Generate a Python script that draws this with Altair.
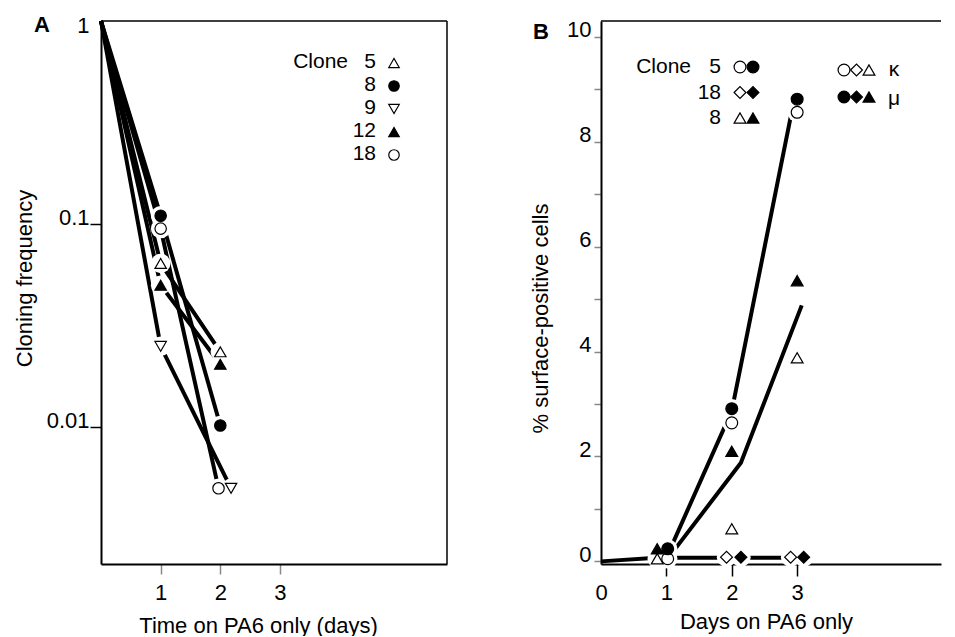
import altair as alt
import pandas as pd

FONT = "Liberation Sans"

# ---------------- Panel A: cloning frequency (log) ----------------
clones_a = ["5", "8", "9", "12", "18"]
shapes_a = ["triangle-up", "circle", "triangle-down", "triangle-up", "circle"]
fills_a = ["white", "black", "white", "black", "white"]

days_a_5 = [0, 1, 2]
freq_a_5 = [1, 0.064, 0.0235]
days_a_8 = [0, 1, 2]
freq_a_8 = [1, 0.11, 0.0102]
days_a_9 = [0, 1, 2.18]
freq_a_9 = [1, 0.025, 0.005]
days_a_12 = [0, 1, 2]
freq_a_12 = [1, 0.05, 0.0204]
days_a_18 = [0, 1, 1.97]
freq_a_18 = [1, 0.095, 0.005]

# ---------------- Panel B: % surface-positive cells ----------------
series_b = ["5κ", "5μ", "18κ", "18μ", "8κ", "8μ"]
shapes_b = ["circle", "circle", "diamond", "diamond", "triangle-up", "triangle-up"]
fills_b = ["white", "black", "white", "black", "white", "black"]
sizes_b = [140, 140, 200, 200, 140, 140]

x_b_5k = [1.02, 2.0, 3.0]
y_b_5k = [0.05, 2.64, 8.56]
x_b_5m = [1.02, 2.0, 3.0]
y_b_5m = [0.24, 2.91, 8.81]
x_b_18k = [1.92, 2.9]
y_b_18k = [0.08, 0.08]
x_b_18m = [2.14, 3.1]
y_b_18m = [0.08, 0.08]
x_b_8k = [0.86, 2.0, 3.0]
y_b_8k = [0.05, 0.62, 3.88]
x_b_8m = [0.86, 2.0, 3.0]
y_b_8m = [0.24, 2.1, 5.35]

# hand-drawn trend lines
trend_x_0 = [0, 0.85]
trend_y_0 = [0, 0.07]
trend_x_1 = [1.05, 2.0, 2.97]
trend_y_1 = [0.21, 2.87, 8.9]
trend_x_2 = [1.05, 2.14, 3.07]
trend_y_2 = [0.1, 1.88, 4.88]
trend_x_3 = [1.1, 2.9]
trend_y_3 = [0.07, 0.07]

legend_b_clones = ["5", "18", "8"]

# ---------------- tables ----------------
rows = []
for c, xs, ys in [("5", days_a_5, freq_a_5), ("8", days_a_8, freq_a_8),
                  ("9", days_a_9, freq_a_9), ("12", days_a_12, freq_a_12),
                  ("18", days_a_18, freq_a_18)]:
    for x, y in zip(xs, ys):
        rows.append({"clone": c, "day": x, "freq": y})
df_a = pd.DataFrame(rows)
df_a_pts = df_a[df_a["day"] > 0]

rows = []
for s, xs, ys in [("5κ", x_b_5k, y_b_5k), ("5μ", x_b_5m, y_b_5m),
                  ("18κ", x_b_18k, y_b_18k), ("18μ", x_b_18m, y_b_18m),
                  ("8κ", x_b_8k, y_b_8k), ("8μ", x_b_8m, y_b_8m)]:
    for x, y in zip(xs, ys):
        rows.append({"series": s, "day": x, "pct": y})
df_b = pd.DataFrame(rows)

rows = []
for k, xs, ys in [(0, trend_x_0, trend_y_0), (1, trend_x_1, trend_y_1),
                  (2, trend_x_2, trend_y_2), (3, trend_x_3, trend_y_3)]:
    for i, (x, y) in enumerate(zip(xs, ys)):
        rows.append({"trend": k, "i": i, "day": x, "pct": y})
df_trend = pd.DataFrame(rows)

W_A, W_B, H = 346, 340, 543
one = pd.DataFrame({"k": [0]})

# ---------------- Panel A ----------------
xa = alt.X("day:Q", scale=alt.Scale(domain=[0, 5.8], nice=False, zero=False),
           axis=alt.Axis(values=[1, 2, 3], title="Time on PA6 only (days)",
                         tickSize=10, labelPadding=8, labelFlush=False,
                         titleX=157, titleY=61, titleBaseline="middle"))
ya = alt.Y("freq:Q", scale=alt.Scale(type="log", domain=[0.00212, 1], nice=False),
           axis=alt.Axis(values=[1, 0.1, 0.01], format=".2~f", title="Cloning frequency",
                         tickSize=11, labelPadding=1,
                         labelBaseline={"condition": {"test": "datum.value >= 1", "value": "middle"},
                                        "value": "alphabetic"},
                         labelOffset={"condition": {"test": "datum.value >= 1", "value": 4},
                                      "value": 0},
                         tickColor={"condition": {"test": "datum.value >= 1", "value": "transparent"},
                                    "value": "black"},
                         titleX=-77, titleY=257, titleBaseline="middle", titleAlign="center"))
shape_a = alt.Shape("clone:N", scale=alt.Scale(domain=clones_a, range=shapes_a), legend=None)
fill_a = alt.Fill("clone:N", scale=alt.Scale(domain=clones_a, range=fills_a), legend=None)

lines_a = alt.Chart(df_a).mark_line(color="black", strokeWidth=4).encode(
    x=xa, y=ya, detail="clone:N", order="day:Q")
halo_a = alt.Chart(df_a_pts).mark_point(filled=True, shape="circle", size=380,
                                        color="white", opacity=1).encode(x=xa, y=ya)
pts_a = alt.Chart(df_a_pts).mark_point(filled=True, size=130, stroke="black",
                                       strokeWidth=1.2, opacity=1).encode(
    x=xa, y=ya, shape=shape_a, fill=fill_a)

leg_a = pd.DataFrame({"clone": clones_a, "row": list(range(len(clones_a)))})
leg_a_text = alt.Chart(leg_a).mark_text(align="right", baseline="middle", fontSize=21,
                                        font=FONT, color="black").transform_calculate(
    ly="41 + 23*datum.row").encode(
    x=alt.value(275), y=alt.Y("ly:Q", scale=None, axis=None), text="clone:N")
leg_a_pts = alt.Chart(leg_a).mark_point(filled=True, size=110, stroke="black",
                                        strokeWidth=1.2, opacity=1).transform_calculate(
    ly="42 + 23*datum.row").encode(
    x=alt.value(293), y=alt.Y("ly:Q", scale=None, axis=None), shape=shape_a, fill=fill_a)
leg_a_title = alt.Chart(one).mark_text(text="Clone", align="right", baseline="middle",
                                       fontSize=21, font=FONT, color="black").encode(
    x=alt.value(247), y=alt.value(41))
frame_a_top = alt.Chart(one).mark_rule(color="black", strokeWidth=1.5).encode(
    x=alt.value(0), x2=alt.value(W_A), y=alt.value(0))
frame_a_right = alt.Chart(one).mark_rule(color="black", strokeWidth=1.5).encode(
    x=alt.value(W_A), y=alt.value(0), y2=alt.value(H))
label_a = alt.Chart(one).mark_text(text="A", fontSize=22, fontWeight="bold", font=FONT,
                                   baseline="middle", align="center", color="black").encode(
    x=alt.value(-59), y=alt.value(4))

panel_a = alt.layer(lines_a, halo_a, pts_a, leg_a_title, leg_a_text, leg_a_pts,
                    frame_a_top, frame_a_right, label_a).properties(width=W_A, height=H)

# ---------------- Panel B ----------------
xb = alt.X("day:Q", scale=alt.Scale(domain=[0, 5.2], nice=False, zero=False),
           axis=alt.Axis(values=[0, 1, 2, 3], title="Days on PA6 only",
                         tickSize=12, labelPadding=6, labelFlush=False,
                         tickColor={"condition": {"test": "datum.value == 0", "value": "transparent"},
                                    "value": "black"},
                         titleX=165, titleY=57, titleBaseline="middle"))
yb = alt.Y("pct:Q", scale=alt.Scale(domain=[-0.05, 10.3], nice=False, zero=False),
           axis=alt.Axis(values=list(range(0, 11)), title="% surface-positive cells",
                         labelExpr="datum.value % 2 == 0 ? datum.label : ''",
                         tickSize=7, labelPadding=3, labelBaseline="alphabetic",
                         titleX=-61, titleY=297, titleBaseline="middle", titleAlign="center"))
shape_b = alt.Shape("series:N", scale=alt.Scale(domain=series_b, range=shapes_b), legend=None)
fill_b = alt.Fill("series:N", scale=alt.Scale(domain=series_b, range=fills_b), legend=None)
size_b = alt.Size("series:N", scale=alt.Scale(domain=series_b, range=sizes_b), legend=None)

lines_b = alt.Chart(df_trend).mark_line(color="black", strokeWidth=4).encode(
    x=xb, y=yb, detail="trend:N", order="i:Q")
halo_b = alt.Chart(df_b).mark_point(filled=True, shape="circle", size=380,
                                    color="white", opacity=1).encode(x=xb, y=yb)
pts_b = alt.Chart(df_b).mark_point(filled=True, stroke="black",
                                   strokeWidth=1.2, opacity=1).encode(
    x=xb, y=yb, shape=shape_b, fill=fill_b, size=size_b)

leg_b = pd.DataFrame({"clone": legend_b_clones, "row": [0, 1, 2]})
leg_b_text = alt.Chart(leg_b).mark_text(align="right", baseline="middle", fontSize=21,
                                        font=FONT, color="black").transform_calculate(
    ly="46 + 25.5*datum.row").encode(
    x=alt.value(120), y=alt.Y("ly:Q", scale=None, axis=None), text="clone:N")
leg_b_title = alt.Chart(one).mark_text(text="Clone", align="right", baseline="middle",
                                       fontSize=21, font=FONT, color="black").encode(
    x=alt.value(90), y=alt.value(46))

leg_b_mk = pd.DataFrame({
    "series": series_b + ["5κ", "18κ", "8κ", "5μ", "18μ", "8μ"],
    "col": [0, 1, 0, 1, 0, 1, 0, 1, 2, 0, 1, 2],
    "row": [0, 0, 1, 1, 2, 2, 0, 0, 0, 1, 1, 1],
    "grp": [0] * 6 + [1] * 6,
})
leg_b_pts = alt.Chart(leg_b_mk).mark_point(filled=True, stroke="black",
                                           strokeWidth=1.2, opacity=1).transform_calculate(
    lx="datum.grp == 0 ? 139 + 13*datum.col : 243 + 12.5*datum.col",
    ly="datum.grp == 0 ? 46 + 25.5*datum.row : 49 + 27*datum.row").encode(
    x=alt.X("lx:Q", scale=None, axis=None), y=alt.Y("ly:Q", scale=None, axis=None),
    shape=shape_b, fill=fill_b, size=size_b)
leg_b_kappa = alt.Chart(one).mark_text(text="κ", align="center", baseline="middle",
                                       fontSize=21, font=FONT, color="black").encode(
    x=alt.value(293), y=alt.value(49))
leg_b_mu = alt.Chart(one).mark_text(text="μ", align="center", baseline="middle",
                                    fontSize=21, font=FONT, color="black").encode(
    x=alt.value(293), y=alt.value(78))
frame_b_top = alt.Chart(one).mark_rule(color="black", strokeWidth=1.5).encode(
    x=alt.value(0), x2=alt.value(W_B), y=alt.value(0))
label_b = alt.Chart(one).mark_text(text="B", fontSize=22, fontWeight="bold", font=FONT,
                                   baseline="middle", align="center", color="black").encode(
    x=alt.value(-60), y=alt.value(11))

panel_b = alt.layer(lines_b, halo_b, pts_b, leg_b_title, leg_b_text, leg_b_pts,
                    leg_b_kappa, leg_b_mu, frame_b_top, label_b).properties(width=W_B, height=H)

chart = alt.hconcat(panel_a, panel_b, spacing=154, bounds="flush").resolve_scale(
    x="independent", y="independent", shape="independent", fill="independent",
    size="independent"
).configure(
    padding={"left": 5, "top": 5, "right": 5, "bottom": 0}, font=FONT
).configure_view(strokeWidth=0).configure_axis(
    labelFont=FONT, titleFont=FONT, labelFontSize=22, titleFontSize=22,
    titleFontWeight="normal", labelColor="black", titleColor="black",
    domainColor="black", domainWidth=2, tickWidth=1.5, grid=False,
)

chart.save("out.html", embed_options={"renderer": "svg", "actions": False})
